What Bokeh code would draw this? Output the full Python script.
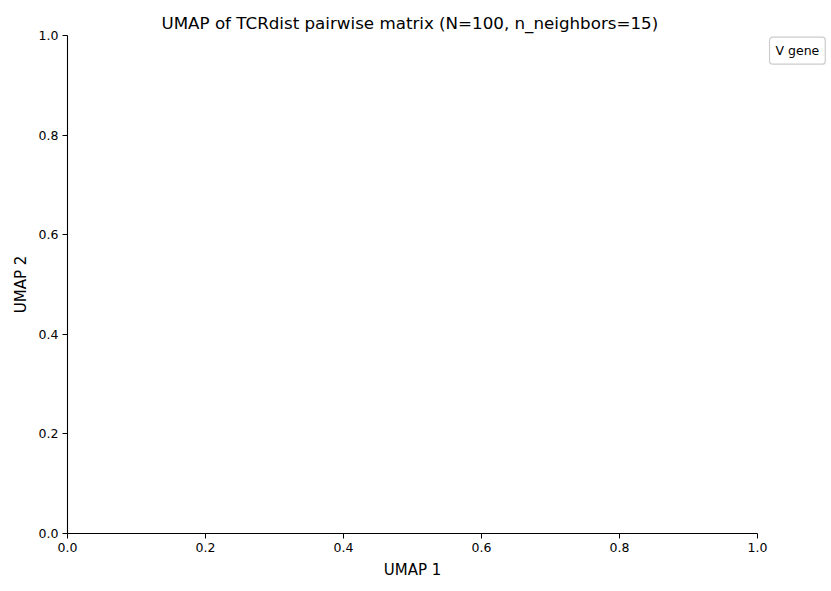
from bokeh.plotting import figure
from bokeh.layouts import row
from bokeh.models import Range1d, FixedTicker, PrintfTickFormatter, Label, ColumnDataSource
from bokeh.embed import file_html
from bokeh.resources import INLINE

# Data (the embedding is empty in the reference)
umap1 = []
umap2 = []
v_gene = []
tick_values = [0.0, 0.2, 0.4, 0.6, 0.8, 1.0]
title_text = "UMAP of TCRdist pairwise matrix  (N=100, n_neighbors=15)"
legend_title = "V gene"

FONT = "DejaVu Sans"

W, H = 831, 591
W1 = 768                      # main figure width
BL, BR, BT, BB = 67, W1 - 757, 35, 58

p = figure(width=W1, height=H, output_backend="svg", toolbar_location=None,
           x_range=Range1d(0, 1), y_range=Range1d(0, 1),
           min_border_left=BL, min_border_right=BR, min_border_top=BT, min_border_bottom=BB)

src = ColumnDataSource(dict(x=umap1, y=umap2, g=v_gene))
p.scatter("x", "y", source=src, size=6)

p.title.text = title_text
p.title.text_font = FONT
p.title.text_font_size = "16.7px"
p.title.text_font_style = "normal"
p.title.align = "center"
p.title.text_color = "black"
p.title.standoff = 6

p.outline_line_color = None
p.grid.visible = False
p.background_fill_color = "white"
p.border_fill_color = "white"

for ax, lab in ((p.xaxis[0], "UMAP 1"), (p.yaxis[0], "UMAP 2")):
    ax.ticker = FixedTicker(ticks=tick_values)
    ax.formatter = PrintfTickFormatter(format="%.1f")
    ax.axis_label = lab
    ax.axis_label_text_font = FONT
    ax.axis_label_text_font_size = "15px"
    ax.axis_label_text_font_style = "normal"
    ax.axis_label_text_color = "black"
    ax.major_label_text_font = FONT
    ax.major_label_text_font_size = "12.5px"
    ax.major_label_text_color = "black"
    ax.axis_line_color = "black"
    ax.axis_line_width = 1.1
    ax.major_tick_line_color = "black"
    ax.major_tick_out = 5
    ax.major_tick_in = 0
    ax.minor_tick_line_color = None
    ax.major_label_standoff = 4
    ax.axis_label_standoff = 6

# legend panel (only the heading: no categories present)
W2 = W - W1
p2 = figure(width=W2, height=H, output_backend="svg", toolbar_location=None,
            x_range=Range1d(0, W2), y_range=Range1d(0, H),
            x_axis_location=None, y_axis_location=None,
            min_border_left=0, min_border_right=0, min_border_top=0, min_border_bottom=0)
p2.outline_line_color = None
p2.grid.visible = False
p2.background_fill_color = "white"
p2.border_fill_color = "white"

leg = Label(x=1, y=H - BT + 33, text=legend_title,
            text_align="left", text_baseline="top",
            text_font=FONT, text_font_size="12.5px", text_color="black",
            padding=6, border_radius=3,
            border_line_color="#cccccc", border_line_width=1.2,
            background_fill_color="white", background_fill_alpha=0.8)
p2.add_layout(leg)

layout = row(p, p2)

open("out.html", "w").write(file_html(layout, INLINE))
